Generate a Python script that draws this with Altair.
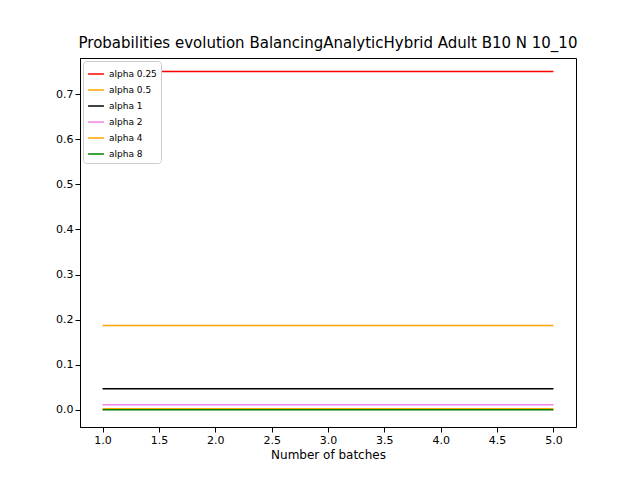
import altair as alt
import pandas as pd

batches = [1, 2, 3, 4, 5]
labels = ["alpha 0.25", "alpha 0.5", "alpha 1", "alpha 2", "alpha 4", "alpha 8"]
values = [0.75, 0.1875, 0.046875, 0.0117, 0.0029, 0.0007]
colors = ["red", "orange", "black", "violet", "orange", "green"]

rows = []
for lab, v in zip(labels, values):
    for b in batches:
        rows.append({"batch": b, "p": v, "series": lab})
df = pd.DataFrame(rows)

chart = alt.Chart(df).mark_line(strokeWidth=1.5).encode(
    x=alt.X("batch:Q", scale=alt.Scale(domain=[0.8, 5.2], nice=False, zero=False),
            axis=alt.Axis(values=[1, 1.5, 2, 2.5, 3, 3.5, 4, 4.5, 5], format=".1f", grid=False,
                          title="Number of batches", titleFontWeight="normal", titleFontSize=12,
                          labelFontSize=11, domainColor="black", tickColor="black", labelColor="black")),
    y=alt.Y("p:Q", scale=alt.Scale(domain=[-0.0377, 0.78], nice=False, zero=False),
            axis=alt.Axis(values=[0, 0.1, 0.2, 0.3, 0.4, 0.5, 0.6, 0.7], format=".1f", grid=False,
                          title=None, labelFontSize=11, domainColor="black", tickColor="black",
                          labelColor="black")),
    color=alt.Color("series:N", sort=labels,
                    scale=alt.Scale(domain=labels, range=colors),
                    legend=alt.Legend(title=None, orient="top-left", symbolType="stroke",
                                      labelFontSize=9, symbolSize=250, rowPadding=2,
                                      strokeColor="#cccccc", fillColor="white", padding=4,
                                      cornerRadius=3, offset=3)),
    detail="series:N",
).properties(
    width=496, height=369,
    title=alt.Title("Probabilities evolution BalancingAnalyticHybrid Adult B10 N 10_10",
                    fontSize=15, fontWeight="normal", font="DejaVu Sans", offset=7),
    autosize="none",
    padding={"left": 72, "top": 50, "right": 56, "bottom": 45},
).configure(font="DejaVu Sans").configure_view(stroke="black")

chart.save("out.html", embed_options={"renderer": "svg", "actions": False})
